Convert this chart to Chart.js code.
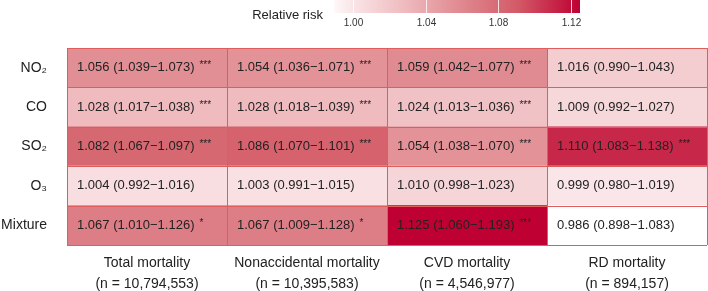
<!DOCTYPE html>
<html>
<head>
<meta charset="utf-8">
<script src="https://cdn.jsdelivr.net/npm/chart.js@4.4.0/dist/chart.umd.min.js"></script>
<style>
  body { margin: 0; background: #fff; }
  canvas { display: block; }
</style>
</head>
<body>
<canvas id="myChart" width="708" height="291"></canvas>
<script>
// rows of the heatmap
const pollutants = ['NO\u2082', 'CO', 'SO\u2082', 'O\u2083', 'Mixture'];
// columns of the heatmap
const outcomes = ['Total mortality', 'Nonaccidental mortality', 'CVD mortality', 'RD mortality'];
const sampleSizes = ['10,794,553', '10,395,583', '4,546,977', '894,157'];

// relative risk per outcome (column), one value per pollutant (row)
const rrValues = [
    [1.056, 1.028, 1.082, 1.004, 1.067],
    [1.054, 1.028, 1.086, 1.003, 1.067],
    [1.059, 1.024, 1.054, 1.010, 1.125],
    [1.016, 1.009, 1.110, 0.999, 0.986]
];
const ciLower = [
    [1.039, 1.017, 1.067, 0.992, 1.010],
    [1.036, 1.018, 1.070, 0.991, 1.009],
    [1.042, 1.013, 1.038, 0.998, 1.060],
    [0.990, 0.992, 1.083, 0.980, 0.898]
];
const ciUpper = [
    [1.073, 1.038, 1.097, 1.016, 1.126],
    [1.071, 1.039, 1.101, 1.015, 1.128],
    [1.077, 1.036, 1.070, 1.023, 1.193],
    [1.043, 1.027, 1.138, 1.019, 1.083]
];
const stars = [
    ['***', '***', '***', '', '*'],
    ['***', '***', '***', '', '*'],
    ['***', '***', '***', '', '***'],
    ['', '', '***', '', '']
];

// colour bar
const legendTicks = [1.00, 1.04, 1.08, 1.12];
const legendMin = 0.9895;
const legendMax = 1.125;

const FONT = "'Liberation Sans', Arial, sans-serif";

// colour ramp: white -> crimson
const colorStops = [
    [0.986, [255, 255, 255]],
    [1.000, [250, 228, 231]],
    [1.030, [238, 184, 188]],
    [1.060, [224, 136, 143]],
    [1.090, [211, 92, 104]],
    [1.125, [190, 0, 50]]
];

function colorFor(v) {
    if (v <= colorStops[0][0]) return 'rgb(' + colorStops[0][1].join(',') + ')';
    for (let i = 1; i < colorStops.length; i++) {
        const [v1, c1] = colorStops[i];
        const [v0, c0] = colorStops[i - 1];
        if (v <= v1) {
            const t = (v - v0) / (v1 - v0);
            const c = c0.map((x, k) => Math.round(x + (c1[k] - x) * t));
            return 'rgb(' + c.join(',') + ')';
        }
    }
    return 'rgb(' + colorStops[colorStops.length - 1][1].join(',') + ')';
}

const cellPlugin = {
    id: 'cells',
    afterDatasetsDraw(chart) {
        const ctx = chart.ctx;
        const xs = chart.scales.x;
        const ys = chart.scales.y;
        const area = chart.chartArea;
        ctx.save();
        // grid lines
        ctx.strokeStyle = '#DE5E5E';
        ctx.lineWidth = 1;
        ctx.beginPath();
        for (let c = 0; c <= outcomes.length; c++) {
            const x = Math.round(xs.getPixelForValue(c)) + 0.5;
            ctx.moveTo(x, area.top);
            ctx.lineTo(x, area.bottom);
        }
        const rowH = (area.bottom - area.top) / pollutants.length;
        for (let r = 0; r <= pollutants.length; r++) {
            const y = Math.round(area.top + r * rowH) + 0.5;
            ctx.moveTo(area.left, y);
            ctx.lineTo(area.right, y);
        }
        ctx.stroke();

        // cell texts
        ctx.fillStyle = '#222';
        ctx.textBaseline = 'middle';
        ctx.textAlign = 'left';
        outcomes.forEach(function (o, c) {
            pollutants.forEach(function (p, r) {
                const x = xs.getPixelForValue(c) + 10;
                const y = ys.getPixelForValue(r);
                const txt = rrValues[c][r].toFixed(3) + ' (' + ciLower[c][r].toFixed(3) +
                    '\u2212' + ciUpper[c][r].toFixed(3) + ')';
                ctx.font = '13px ' + FONT;
                ctx.fillText(txt, x, y);
                if (stars[c][r]) {
                    const w = ctx.measureText(txt).width;
                    ctx.font = '10px ' + FONT;
                    ctx.fillText(stars[c][r], x + w + 5, y - 2);
                }
            });
        });
        ctx.restore();
    },
    afterDraw(chart) {
        // colour bar legend
        const ctx = chart.ctx;
        const x0 = 334, x1 = 580, y0 = 0, h = 13;
        const toX = v => x0 + (v - legendMin) / (legendMax - legendMin) * (x1 - x0);
        ctx.save();
        const grad = ctx.createLinearGradient(x0, 0, x1, 0);
        for (let i = 0; i <= 20; i++) {
            const v = legendMin + (legendMax - legendMin) * i / 20;
            grad.addColorStop(i / 20, colorFor(v));
        }
        ctx.fillStyle = grad;
        ctx.fillRect(x0, y0, x1 - x0, h);
        ctx.strokeStyle = 'rgba(255,255,255,0.8)';
        ctx.lineWidth = 1;
        ctx.fillStyle = '#333';
        ctx.font = '10px ' + FONT;
        ctx.textAlign = 'center';
        ctx.textBaseline = 'middle';
        legendTicks.forEach(function (t) {
            const x = Math.round(toX(t)) + 0.5;
            ctx.beginPath();
            ctx.moveTo(x, y0);
            ctx.lineTo(x, y0 + h);
            ctx.stroke();
            ctx.fillText(t.toFixed(2), x, 23);
        });
        ctx.fillStyle = '#222';
        ctx.font = '13px ' + FONT;
        ctx.textAlign = 'right';
        ctx.fillText('Relative risk', 323, 15);
        ctx.restore();
    }
};

var ctx = document.getElementById('myChart');

var myChart = new Chart(ctx, {
    type: 'bar',
    data: {
        labels: pollutants,
        datasets: outcomes.map(function (o, c) {
            return {
                label: o,
                data: pollutants.map(() => [c, c + 1]),
                backgroundColor: rrValues[c].map(colorFor),
                borderWidth: 0,
                barPercentage: 1,
                categoryPercentage: 1,
                grouped: false
            };
        })
    },
    options: {
        indexAxis: 'y',
        responsive: false,
        animation: false,
        layout: { padding: { top: 48, right: 1 } },
        plugins: {
            legend: { display: false },
            tooltip: { enabled: false }
        },
        scales: {
            x: {
                type: 'linear',
                min: 0,
                max: outcomes.length,
                grid: { display: false, drawTicks: false },
                border: { display: false },
                afterBuildTicks: function (axis) {
                    axis.ticks = outcomes.map((o, i) => ({ value: i + 0.5 }));
                },
                afterFit: function (axis) { axis.height = 46; },
                ticks: {
                    autoSkip: false,
                    maxRotation: 0,
                    padding: 8,
                    color: '#222',
                    font: { family: FONT, size: 14, lineHeight: 1.5 },
                    callback: function (value) {
                        const i = Math.round(value - 0.5);
                        return [outcomes[i], '(n = ' + sampleSizes[i] + ')'];
                    }
                }
            },
            y: {
                grid: { display: false, drawTicks: false },
                border: { display: false },
                afterFit: function (axis) { axis.width = 67; },
                ticks: {
                    padding: 20,
                    color: '#222',
                    font: { family: FONT, size: 14 }
                }
            }
        }
    },
    plugins: [cellPlugin]
});
</script>
</body>
</html>
